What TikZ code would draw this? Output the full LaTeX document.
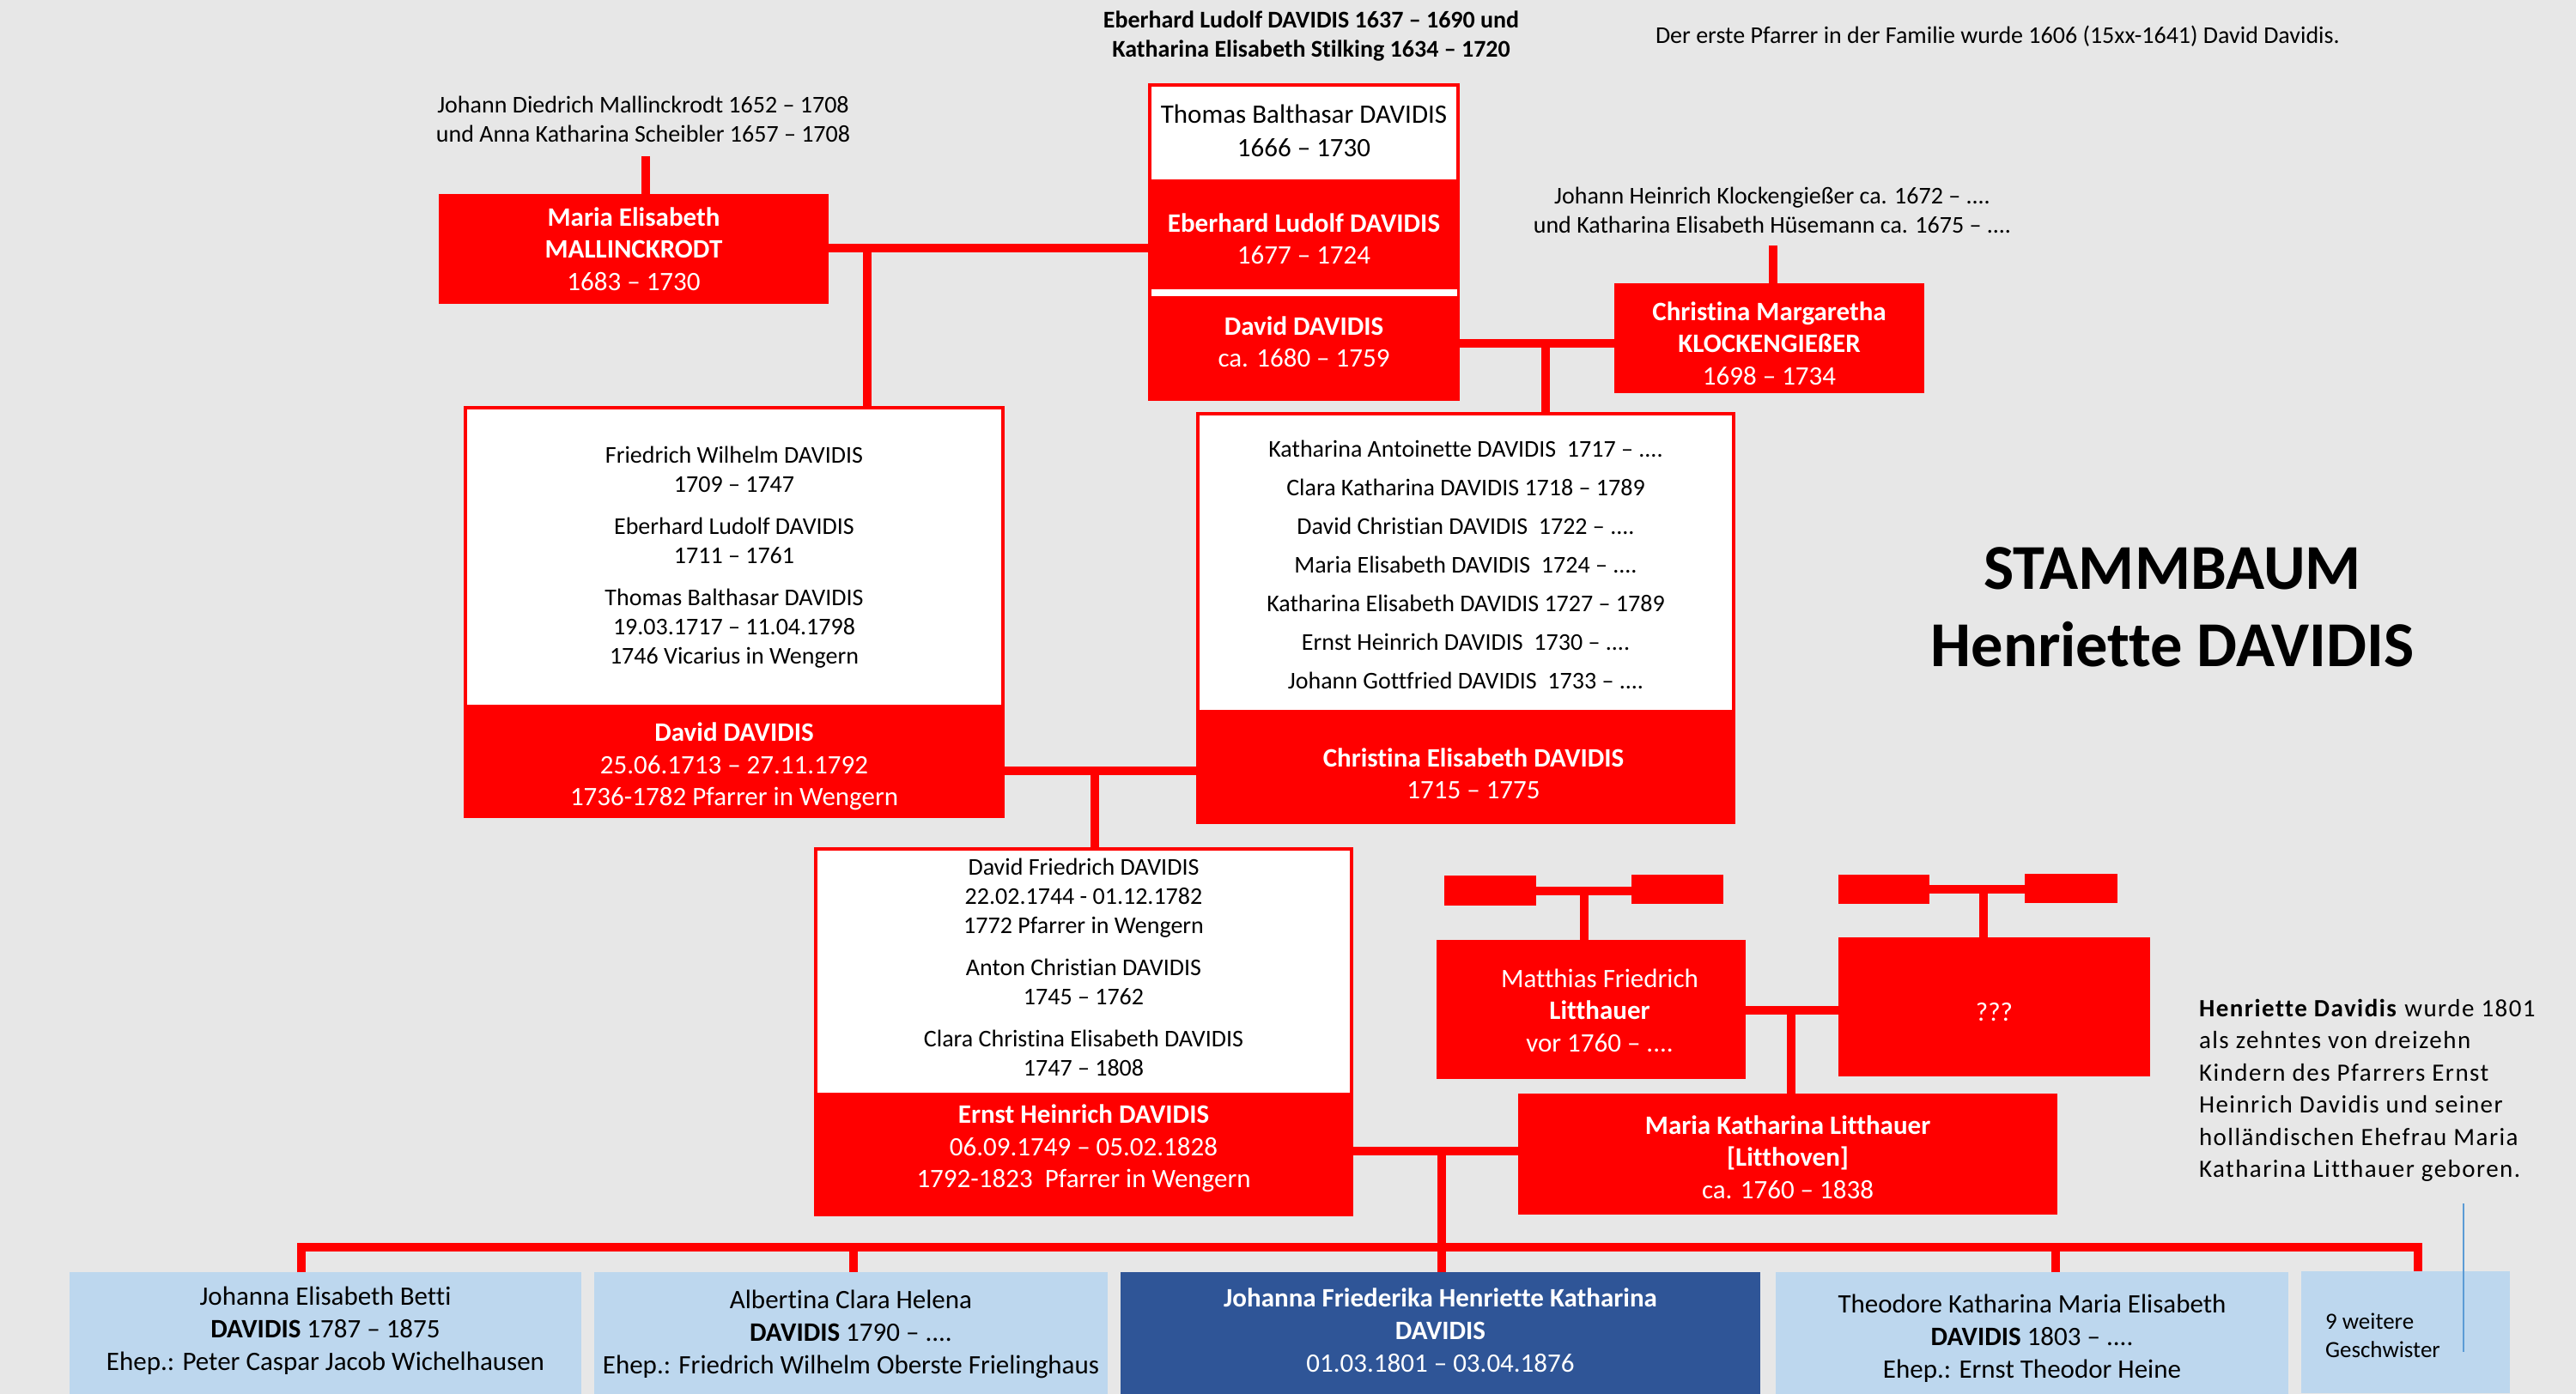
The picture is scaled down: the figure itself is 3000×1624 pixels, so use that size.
\documentclass[tikz,border=0pt]{standalone}
\usepackage{fontspec}
\setmainfont{Carlito}[Ligatures={NoCommon}]
\newfontfamily\parafont[LetterSpace=5.0,Ligatures={NoCommon}]{Carlito}
\definecolor{bg}{HTML}{E7E7E7}
\definecolor{dred}{HTML}{FF0000}
\definecolor{lblue}{HTML}{BDD7EE}
\definecolor{dblue}{HTML}{2F5597}
\definecolor{thinblue}{HTML}{5B9BD5}
\newcommand\fsz[2]{\fontsize{#1pt}{#2pt}\selectfont}
\begin{document}
\begin{tikzpicture}[x=1pt,y=-1pt,
  every node/.style={inner sep=0pt, outer sep=0pt},
  boxnw/.style={anchor=north west, draw=none},
  redbox/.style={boxnw, fill=dred},
  whitebox/.style={boxnw, fill=white, draw=dred, line width=4pt},
  lbbox/.style={boxnw, fill=lblue},
  dbbox/.style={boxnw, fill=dblue},
  conn/.style={draw=dred, line width=9.5pt},
  wtxt/.style={text=white, align=center},
  btxt/.style={text=black, align=center},
  bigtxt/.style={font=\fsz{31}{37.5}},
  sibtxt/.style={font=\fsz{28}{34}},
  notetxt/.style={font=\fsz{28}{34}, text=black, align=center},
  bottxt/.style={font=\fsz{31}{38}, align=center},
]
\fill[bg] (0,0) rectangle (3000,1624);
\useasboundingbox (0,0) rectangle (3000,1624);

% --- top texts
\node[notetxt, font=\fsz{28}{34}\bfseries] (grandp) at (1527,42) {Eberhard Ludolf DAVIDIS 1637 – 1690 und\\Katharina Elisabeth Stilking 1634 – 1720};
\node[anchor=west, font=\fsz{28}{34}] (pfarrer) at (1928,42) {Der erste Pfarrer in der Familie wurde 1606 (15xx-1641) David Davidis.};
\node[notetxt] (mallpar) at (749,139) {Johann Diedrich Mallinckrodt 1652 – 1708\\und Anna Katharina Scheibler 1657 – 1708};
\node[notetxt] (klockpar) at (2064,245) {Johann Heinrich Klockengießer ca. 1672 – ....\\und Katharina Elisabeth Hüsemann ca. 1675 – ....};

% --- generation 1
\node[redbox, minimum width=454pt, minimum height=128pt] (mall) at (511,226) {};
\node[wtxt, bigtxt] (mallT) at (738,290) {\textbf{Maria Elisabeth}\\\textbf{MALLINCKRODT}\\1683 – 1730};

\node[whitebox, minimum width=359pt, minimum height=112pt] (thomasW) at (1339,99) {};
\node[redbox, minimum width=363pt, minimum height=256pt] (thomasR) at (1337,211) {};
\node[boxnw, fill=white, minimum width=356pt, minimum height=8pt] (sepbar) at (1341,337) {};
\node[btxt, font=\fsz{31}{39}] (thomasT) at (1518.5,152) {Thomas Balthasar DAVIDIS\\1666 – 1730};
\node[wtxt, bigtxt] (eberT) at (1518.5,278) {\textbf{Eberhard Ludolf DAVIDIS}\\1677 – 1724};
\node[wtxt, bigtxt] (davidT) at (1518.5,398) {\textbf{David DAVIDIS}\\ca. 1680 – 1759};

\node[redbox, minimum width=361pt, minimum height=128pt] (chm) at (1880,330) {};
\node[wtxt, bigtxt] (chmT) at (2060.5,400) {\textbf{Christina Margaretha}\\\textbf{KLOCKENGIEßER}\\1698 – 1734};

% --- generation 2
\node[whitebox, minimum width=626pt, minimum height=348pt] (leftW) at (542,475) {};
\node[redbox, minimum width=630pt, minimum height=130pt] (leftR) at (540,823) {};
\node[btxt, sibtxt] (leftT) at (855,649) {Friedrich Wilhelm DAVIDIS\\1709 – 1747\\[15pt]Eberhard Ludolf DAVIDIS\\1711 – 1761\\[15pt]Thomas Balthasar DAVIDIS\\19.03.1717 – 11.04.1798\\1746 Vicarius in Wengern};
\node[wtxt, bigtxt] (davidDT) at (855,893) {\textbf{David DAVIDIS}\\25.06.1713 – 27.11.1792\\1736-1782 Pfarrer in Wengern};

\node[whitebox, minimum width=624pt, minimum height=347pt] (rightW) at (1395,482) {};
\node[redbox, minimum width=628pt, minimum height=131pt] (rightR) at (1393,829) {};
\node[btxt, font=\fsz{28}{45}] (rightT) at (1707,657.5) {Katharina Antoinette DAVIDIS~ 1717 – ....\\Clara Katharina DAVIDIS 1718 – 1789\\David Christian DAVIDIS~ 1722 – ....\\Maria Elisabeth DAVIDIS~ 1724 – ....\\Katharina Elisabeth DAVIDIS 1727 – 1789\\Ernst Heinrich DAVIDIS~ 1730 – ....\\Johann Gottfried DAVIDIS~ 1733 – ....};
\node[wtxt, bigtxt] (chrelT) at (1716,901) {\textbf{Christina Elisabeth DAVIDIS}\\1715 – 1775};

% --- generation 3
\node[whitebox, minimum width=624pt, minimum height=286pt] (ernstW) at (950,989) {};
\node[redbox, minimum width=628pt, minimum height=142pt] (ernstR) at (948,1275) {};
\node[btxt, sibtxt] (ernstWT) at (1262,1126.5) {David Friedrich DAVIDIS\\22.02.1744 - 01.12.1782\\1772 Pfarrer in Wengern\\[15pt]Anton Christian DAVIDIS\\1745 – 1762\\[15pt]Clara Christina Elisabeth DAVIDIS\\1747 – 1808};
\node[wtxt, bigtxt] (ernstT) at (1262,1338) {\textbf{Ernst Heinrich DAVIDIS}\\06.09.1749 – 05.02.1828\\1792-1823~ Pfarrer in Wengern};

\node[redbox, minimum width=107pt, minimum height=35pt] (sb1) at (1682,1020) {};
\node[redbox, minimum width=107pt, minimum height=34pt] (sb2) at (1900,1019) {};
\node[redbox, minimum width=360pt, minimum height=162pt] (matth) at (1673,1095) {};
\node[wtxt, bigtxt] (matthT) at (1863,1177) {Matthias Friedrich\\\textbf{Litthauer}\\vor 1760 – ....};

\node[redbox, minimum width=106pt, minimum height=34pt] (sb3) at (2141,1019) {};
\node[redbox, minimum width=108pt, minimum height=34pt] (sb4) at (2358,1018) {};
\node[redbox, minimum width=363pt, minimum height=162pt] (qqq) at (2141,1092) {};
\node[wtxt, bigtxt] (qqqT) at (2322.5,1179) {???};

\node[redbox, minimum width=628pt, minimum height=141pt] (mk) at (1768,1274) {};
\node[wtxt, bigtxt] (mkT) at (2082,1348) {\textbf{Maria Katharina Litthauer}\\\textbf{[Litthoven]}\\ca. 1760 – 1838};

% --- children
\node[lbbox, minimum width=596pt, minimum height=142pt] (c1) at (81,1482) {};
\node[lbbox, minimum width=598pt, minimum height=142pt] (c2) at (692,1482) {};
\node[dbbox, minimum width=745pt, minimum height=142pt] (c3) at (1305,1482) {};
\node[lbbox, minimum width=597pt, minimum height=142pt] (c4) at (2068,1482) {};
\node[lbbox, minimum width=243pt, minimum height=142pt] (c5) at (2680,1481) {};
\node[bottxt] (c1T) at (379,1550) {Johanna Elisabeth Betti\\\textbf{DAVIDIS} 1787 – 1875\\Ehep.: Peter Caspar Jacob Wichelhausen};
\node[bottxt] (c2T) at (991,1554) {Albertina Clara Helena\\\textbf{DAVIDIS} 1790 – ....\\Ehep.: Friedrich Wilhelm Oberste Frielinghaus};
\node[bottxt, text=white] (c3T) at (1677.5,1550) {\textbf{Johanna Friederika Henriette Katharina}\\\textbf{DAVIDIS}\\01.03.1801 – 03.04.1876};
\node[bottxt] (c4T) at (2366.5,1559) {Theodore Katharina Maria Elisabeth\\\textbf{DAVIDIS} 1803 – ....\\Ehep.: Ernst Theodor Heine};
\node[anchor=west, align=left, font=\fsz{27}{33}] (c5T) at (2708,1556) {9 weitere\\Geschwister};

% --- title and note
\node[font=\fsz{74.5}{90}\bfseries, align=center] (title) at (2530,707) {STAMMBAUM\\Henriette DAVIDIS};
\node[anchor=north west, align=left, font=\parafont\fsz{29}{37.5}] (para) at (2561,1164) {\textbf{Henriette Davidis} wurde 1801\\als zehntes von dreizehn\\Kindern des Pfarrers Ernst\\Heinrich Davidis und seiner\\holländischen Ehefrau Maria\\Katharina Litthauer geboren.};
\coordinate (blA) at (2869,1402);
\coordinate (blB) at (2869,1575);
\draw[thinblue, line width=2pt] (blA) -- (blB);

% --- connectors
\coordinate (mallUp) at (752,182);
\draw[conn] (mallUp) -- (mallUp |- mall.north);
\coordinate (j1) at (1010,289);
\draw[conn] (j1 -| mall.east) -- (j1 -| thomasR.west);
\draw[conn] (j1) -- (j1 |- leftW.north);
\coordinate (klUp) at (2065,286);
\draw[conn] (klUp) -- (klUp |- chm.north);
\coordinate (j2) at (1800,400);
\draw[conn] (j2 -| thomasR.east) -- (j2 -| chm.west);
\draw[conn] (j2) -- (j2 |- rightW.north);
\coordinate (j3) at (1275,898);
\draw[conn] (j3 -| leftR.east) -- (j3 -| rightR.west);
\draw[conn] (j3) -- (j3 |- ernstW.north);
\coordinate (j4) at (1845,1038);
\draw[conn] (j4 -| sb1.east) -- (j4 -| sb2.west);
\draw[conn] (j4) -- (j4 |- matth.north);
\coordinate (j5) at (2310,1036);
\draw[conn] (j5 -| sb3.east) -- (j5 -| sb4.west);
\draw[conn] (j5) -- (j5 |- qqq.north);
\coordinate (j6) at (2086,1177);
\draw[conn] (j6 -| matth.east) -- (j6 -| qqq.west);
\draw[conn] (j6) -- (j6 |- mk.north);
\coordinate (j7) at (1679,1341);
\draw[conn] (j7 -| ernstR.east) -- (j7 -| mk.west);
\draw[conn] (j7) -- (j7 |- c3.north);
\coordinate (bL) at (351,1453);
\coordinate (bR) at (2816,1453);
\coordinate (b2) at (994,1453);
\coordinate (b4) at (2394,1453);
\draw[conn, line join=miter] (bL |- c1.north) -- (bL) -- (bR) -- (bR |- c5.north);
\draw[conn] (b2) -- (b2 |- c2.north);
\draw[conn] (b4) -- (b4 |- c4.north);
\end{tikzpicture}
\end{document}
